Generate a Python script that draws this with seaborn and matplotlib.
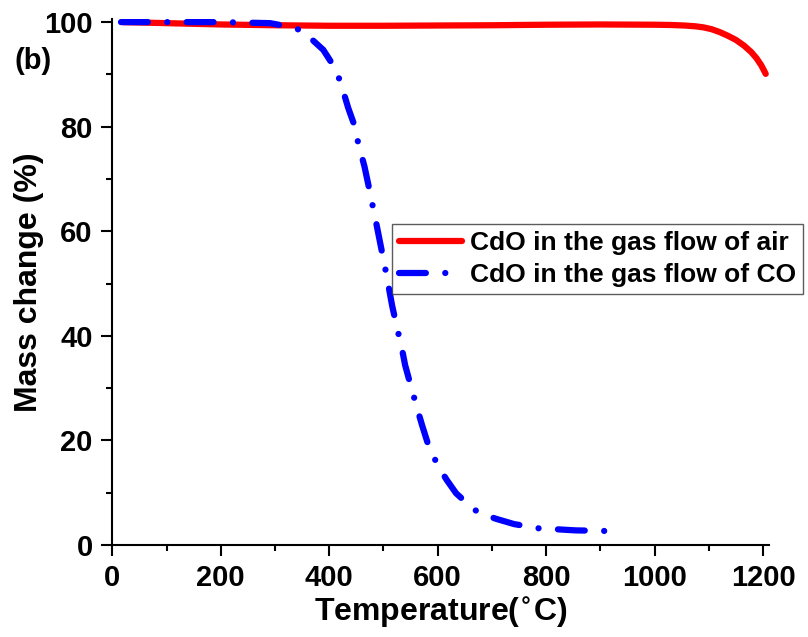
import matplotlib
matplotlib.use('Agg')
import matplotlib.pyplot as plt
from matplotlib.ticker import MultipleLocator
import seaborn as sns
import pandas as pd

# TGA curves
temp_air = [20, 100, 200, 300, 400, 500, 600, 700, 800, 900, 1000, 1030, 1055,
            1075, 1090, 1105, 1120, 1135, 1150, 1165, 1178, 1188, 1197, 1205]
mass_air = [100, 99.8, 99.55, 99.4, 99.3, 99.3, 99.35, 99.4, 99.5, 99.55, 99.5,
            99.45, 99.35, 99.2, 99.0, 98.65, 98.1, 97.4, 96.6, 95.5, 94.3, 93.1,
            91.7, 90.1]

temp_co = [16, 100, 200, 291, 322, 350, 389, 407, 420, 435, 446, 453, 465, 472,
           488, 505, 516, 523, 534, 540, 549, 562, 571, 581, 600, 617, 634, 655,
           675, 708, 741, 786, 821, 854, 904, 937]
mass_co = [100, 100, 100, 99.8, 99.2, 98.4, 94.7, 91.8, 88.8, 83.6, 80.4, 77.1,
           72.4, 69.0, 60.9, 52.0, 45.8, 42.5, 37.6, 34.4, 31.0, 26.2, 23.0, 19.7,
           15.2, 12.4, 9.9, 7.9, 6.2, 5.0, 4.0, 3.2, 3.0, 2.8, 2.7, 2.6]

label_air = 'CdO in the gas flow of air'
label_co = 'CdO in the gas flow of CO'

sns.set_style('ticks')
plt.rcParams['font.family'] = ['Liberation Sans', 'DejaVu Sans']
plt.rcParams['font.weight'] = 'bold'
plt.rcParams['mathtext.default'] = 'bf'
for key in ['text.color', 'axes.labelcolor', 'xtick.color', 'ytick.color',
            'axes.edgecolor']:
    plt.rcParams[key] = 'black'

fig = plt.figure(figsize=(8.08, 6.37), dpi=100)
ax = fig.add_axes([0.139, 0.1444, 0.8127, 0.825])

df_air = pd.DataFrame({'T': temp_air, 'm': mass_air})
df_co = pd.DataFrame({'T': temp_co, 'm': mass_co})

sns.lineplot(data=df_air, x='T', y='m', ax=ax, color='#ff0000', lw=4.5,
             sort=False, label=label_air, solid_capstyle='round')
sns.lineplot(data=df_co, x='T', y='m', ax=ax, color='#0000ff', lw=4.5,
             sort=False, label=label_co,
             linestyle=(0, (4.3, 3.1, 0.01, 3.1)), dash_capstyle='round')

ax.set_xlim(0, 1211)
ax.set_ylim(0, 100.5)
ax.xaxis.set_major_locator(MultipleLocator(200))
ax.xaxis.set_minor_locator(MultipleLocator(100))
ax.yaxis.set_major_locator(MultipleLocator(20))
ax.yaxis.set_minor_locator(MultipleLocator(10))

for side in ['top', 'right']:
    ax.spines[side].set_visible(False)
for side in ['left', 'bottom']:
    ax.spines[side].set_linewidth(1.5)
ax.tick_params(which='major', direction='out', length=8, width=1.5,
               labelsize=21, pad=6, color='black')
ax.tick_params(which='minor', direction='out', length=4.5, width=1.5,
               color='black')
for lab in ax.get_xticklabels() + ax.get_yticklabels():
    lab.set_fontweight('bold')

ax.set_xlabel('Temperature($^{\\circ}$C)', fontsize=23, fontweight='bold',
              labelpad=2)
ax.set_ylabel('Mass change (%)', fontsize=23, fontweight='bold', labelpad=0)

leg = ax.legend(loc='upper left', bbox_to_anchor=(0.426, 0.61),
                borderaxespad=0, frameon=True, fancybox=False,
                handlelength=2.4, handletextpad=0.3, borderpad=0.25,
                labelspacing=0.3, prop={'weight': 'bold', 'size': 19})
leg.get_frame().set_edgecolor('#333333')
leg.get_frame().set_linewidth(1.0)

fig.text(33 / 808, 1 - 61 / 637, '(b)', ha='center', va='center',
         fontsize=21, fontweight='bold')

fig.savefig('out.png', dpi=100)
